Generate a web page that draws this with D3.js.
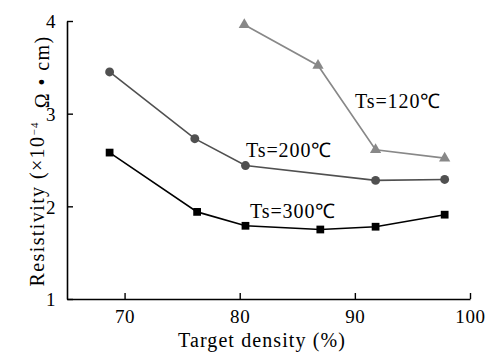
<!DOCTYPE html>
<html>
<head>
<meta charset="utf-8">
<script src="https://cdn.jsdelivr.net/npm/d3@7"></script>
<style>
  body { margin: 0; background: #fff; }
  text { font-family: "Liberation Serif", "Times New Roman", serif; }
</style>
</head>
<body>
<div id="chart"></div>
<script>
const xTicks = [70, 80, 90, 100];
const yTicks = [1, 2, 3, 4];

const density300 = [68.7, 76.3, 80.5, 87.0, 91.8, 97.8];
const rho300 = [2.58, 1.94, 1.79, 1.75, 1.78, 1.91];

const density200 = [68.7, 76.1, 80.5, 91.8, 97.8];
const rho200 = [3.45, 2.73, 2.44, 2.28, 2.29];

const density120 = [80.4, 86.8, 91.8, 97.8];
const rho120 = [3.96, 3.52, 2.61, 2.52];

const labels = ["Ts=300\u2103", "Ts=200\u2103", "Ts=120\u2103"];

const width = 492, height = 352;
const margin = { top: 21, right: 22, bottom: 53, left: 67 };

const svg = d3.select('#chart').append('svg')
  .attr('width', width)
  .attr('height', height);

const x = d3.scaleLinear()
  .domain([65, 100])
  .range([margin.left, width - margin.right]);

const y = d3.scaleLinear()
  .domain([1, 4])
  .range([height - margin.bottom, margin.top]);

// axes, ticks pointing inward
const xAxis = svg.append('g')
  .attr('transform', `translate(0,${y(1)})`)
  .call(d3.axisBottom(x).tickValues(xTicks).tickFormat(d3.format('d'))
    .tickSizeInner(-6).tickSizeOuter(0).tickPadding(11));
const yAxis = svg.append('g')
  .attr('transform', `translate(${x(65)},0)`)
  .call(d3.axisLeft(y).tickValues(yTicks).tickFormat(d3.format('d'))
    .tickSizeInner(-6).tickSizeOuter(0).tickPadding(11));

[xAxis, yAxis].forEach(g => {
  g.select('.domain').attr('stroke', '#000').attr('stroke-width', 1.6);
  g.selectAll('.tick line').attr('stroke', '#000').attr('stroke-width', 1.4);
  g.selectAll('.tick text')
    .style('font-family', '"Liberation Serif", serif')
    .style('font-size', '19px')
    .style('letter-spacing', '0.6px')
    .attr('fill', '#000');
});
yAxis.selectAll('.tick text').attr('dy', '0.36em');

const series = [
  { xs: density300, ys: rho300, color: '#000000', shape: 'square', label: labels[0], lx: 250, ly: 218 },
  { xs: density200, ys: rho200, color: '#505050', shape: 'circle', label: labels[1], lx: 246, ly: 157 },
  { xs: density120, ys: rho120, color: '#888888', shape: 'triangle', label: labels[2], lx: 355, ly: 108 }
];

const line = d3.line()
  .x(d => x(d[0]))
  .y(d => y(d[1]));

series.forEach(s => {
  const pts = s.xs.map((v, i) => [v, s.ys[i]]);
  svg.append('path')
    .datum(pts)
    .attr('d', line)
    .attr('fill', 'none')
    .attr('stroke', s.color)
    .attr('stroke-width', 1.6);

  const sym = s.shape === 'square' ? d3.symbolSquare : s.shape === 'circle' ? d3.symbolCircle : d3.symbolTriangle;
  const size = s.shape === 'square' ? 60 : s.shape === 'circle' ? 62 : 55;
  svg.selectAll(null)
    .data(pts)
    .enter()
    .append('path')
    .attr('d', d3.symbol().type(sym).size(size))
    .attr('transform', d => `translate(${x(d[0])},${y(d[1])})`)
    .attr('fill', s.color);

  svg.append('text')
    .attr('x', s.lx)
    .attr('y', s.ly)
    .style('font-size', '20px')
    .style('letter-spacing', '0.9px')
    .attr('fill', '#000')
    .text(s.label);
});

// axis titles
svg.append('text')
  .attr('x', 262)
  .attr('y', 347)
  .attr('text-anchor', 'middle')
  .style('font-size', '20px')
  .style('letter-spacing', '1.1px')
  .text('Target density (%)');

const yl = svg.append('text')
  .attr('transform', 'translate(44,161) rotate(-90)')
  .attr('text-anchor', 'middle')
  .style('font-size', '20px')
  .style('letter-spacing', '1.4px');
yl.append('tspan').text('Resistivity (\u00d710');
yl.append('tspan').attr('dy', '-0.55em').style('font-size', '11px').text('\u22124');
yl.append('tspan').attr('dy', '0.55em').text('\u00a0\u00a0\u03a9\u00a0\u2022\u00a0cm)');
</script>
</body>
</html>
